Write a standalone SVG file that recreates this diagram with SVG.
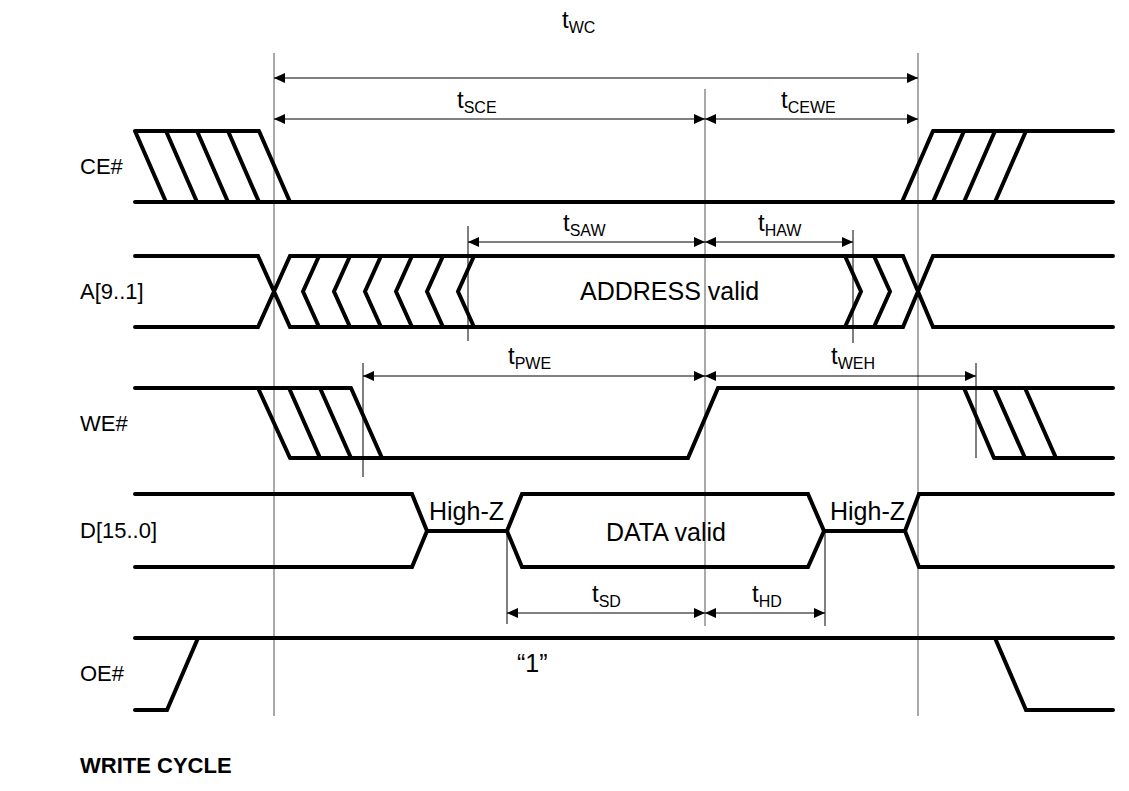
<svg xmlns="http://www.w3.org/2000/svg" width="1129" height="791" viewBox="0 0 1129 791">
<style>
.sig{fill:none;stroke:#000;stroke-width:4;stroke-linecap:round;stroke-linejoin:miter}
.guide{stroke:#555;stroke-width:1;fill:none}
.tick{stroke:#000;stroke-width:1;fill:none}
.dim{stroke:#000;stroke-width:1;fill:none;marker-start:url(#ah);marker-end:url(#ah)}
.lbl{font-family:"Liberation Sans",Arial,sans-serif;font-size:22px;fill:#000}
.big{font-family:"Liberation Sans",Arial,sans-serif;font-size:25px;fill:#000}
.t{font-family:"Liberation Sans",Arial,sans-serif;font-size:24px;fill:#000}
.sub{font-size:16px}
.title{font-family:"Liberation Sans",Arial,sans-serif;font-size:22px;font-weight:bold;fill:#000}
</style>
<defs>
<marker id="ah" viewBox="0 0 11 10" refX="11" refY="5" markerWidth="11" markerHeight="10" markerUnits="userSpaceOnUse" orient="auto-start-reverse">
<path d="M0,0 L11,5 L0,10 Z" fill="#000"/>
</marker>
</defs>
<rect width="1129" height="791" fill="#fff"/>

<g id="guides">
<line class="guide" x1="274" y1="53" x2="274" y2="716"/>
<line class="guide" x1="918" y1="53" x2="918" y2="716"/>
<line class="guide" x1="705" y1="89" x2="705" y2="626"/>
<line class="tick" x1="468" y1="226" x2="468" y2="341"/>
<line class="tick" x1="853" y1="230" x2="853" y2="343"/>
<line class="tick" x1="363" y1="363" x2="363" y2="477"/>
<line class="tick" x1="976" y1="363" x2="976" y2="458"/>
<line class="tick" x1="507" y1="531" x2="507" y2="624"/>
<line class="tick" x1="825" y1="531" x2="825" y2="626"/>
</g>

<g id="connectors">
<line class="dim" x1="274" y1="78" x2="918" y2="78"/>
<line class="dim" x1="274" y1="119" x2="705" y2="119"/>
<line class="dim" x1="705" y1="119" x2="918" y2="119"/>
<line class="dim" x1="468" y1="242" x2="705" y2="242"/>
<line class="dim" x1="705" y1="242" x2="853" y2="242"/>
<line class="dim" x1="363" y1="376" x2="705" y2="376"/>
<line class="dim" x1="705" y1="376" x2="976" y2="376"/>
<line class="dim" x1="507" y1="613" x2="705" y2="613"/>
<line class="dim" x1="705" y1="613" x2="825" y2="613"/>
</g>

<g id="timing-labels">
<text class="t" x="562" y="28">t<tspan class="sub" dy="5">WC</tspan></text>
<text class="t" x="457" y="108">t<tspan class="sub" dy="5">SCE</tspan></text>
<text class="t" x="781" y="108">t<tspan class="sub" dy="5">CEWE</tspan></text>
<text class="t" x="563" y="231">t<tspan class="sub" dy="5">SAW</tspan></text>
<text class="t" x="758" y="231">t<tspan class="sub" dy="5">HAW</tspan></text>
<text class="t" x="508" y="364">t<tspan class="sub" dy="5">PWE</tspan></text>
<text class="t" x="831" y="364">t<tspan class="sub" dy="5">WEH</tspan></text>
<text class="t" x="592" y="602">t<tspan class="sub" dy="5">SD</tspan></text>
<text class="t" x="752" y="602">t<tspan class="sub" dy="5">HD</tspan></text>
</g>

<g id="CE">
<text class="lbl" x="80" y="174">CE#</text>
<path class="sig" d="M135,131 H259 M135,202 H1113 M135,131 L166,202 M166,131 L197,202 M197,131 L228,202 M228,131 L259,202 M259,131 L290,202 M902,202 L933,131 M933,202 L964,131 M964,202 L995,131 M995,202 L1026,131 M933,131 H1113"/>
</g>

<g id="A">
<text class="lbl" x="80" y="299">A[9..1]</text>
<path class="sig" d="M135,256 H258 L290,327 H903 L933,256 H1113 M135,327 H258 L290,256 H903 L933,327 H1113 M319,256 L303,291.5 L319,327 M350,256 L334,291.5 L350,327 M381,256 L365,291.5 L381,327 M412,256 L396,291.5 L412,327 M443,256 L427,291.5 L443,327 M474,256 L458,291.5 L474,327 M845,256 L861,291.5 L845,327 M874,256 L890,291.5 L874,327"/>
<text class="big" x="580" y="300">ADDRESS valid</text>
</g>

<g id="WE">
<text class="lbl" x="80" y="431">WE#</text>
<path class="sig" d="M135,388 H351 M258,388 L290,458 M289,388 L320,458 M320,388 L351,458 M351,388 L382,458 M290,458 H688 L718,388 H1113 M964,388 L994,458 M994,388 L1025,458 M1025,388 L1056,458 M994,458 H1113"/>
</g>

<g id="D">
<text class="lbl" x="80" y="538">D[15..0]</text>
<path class="sig" d="M135,494 H412 L427,531 L412,567 H135 M427,531 H507 M522,494 L507,531 L522,567 H808 L824,531 L808,494 Z M824,531 H905 M1113,494 H919 L905,531 L919,567 H1113"/>
<text class="big" x="429" y="520">High-Z</text>
<text class="big" x="606" y="541">DATA valid</text>
<text class="big" x="830" y="520">High-Z</text>
</g>

<g id="OE">
<text class="lbl" x="80" y="681">OE#</text>
<path class="sig" d="M135,638 H1113 M135,710 H167 L198,638 M995,638 L1026,710 H1113"/>
<text class="big" x="517" y="672">“1”</text>
</g>

<text class="title" x="80" y="773">WRITE CYCLE</text>
</svg>
